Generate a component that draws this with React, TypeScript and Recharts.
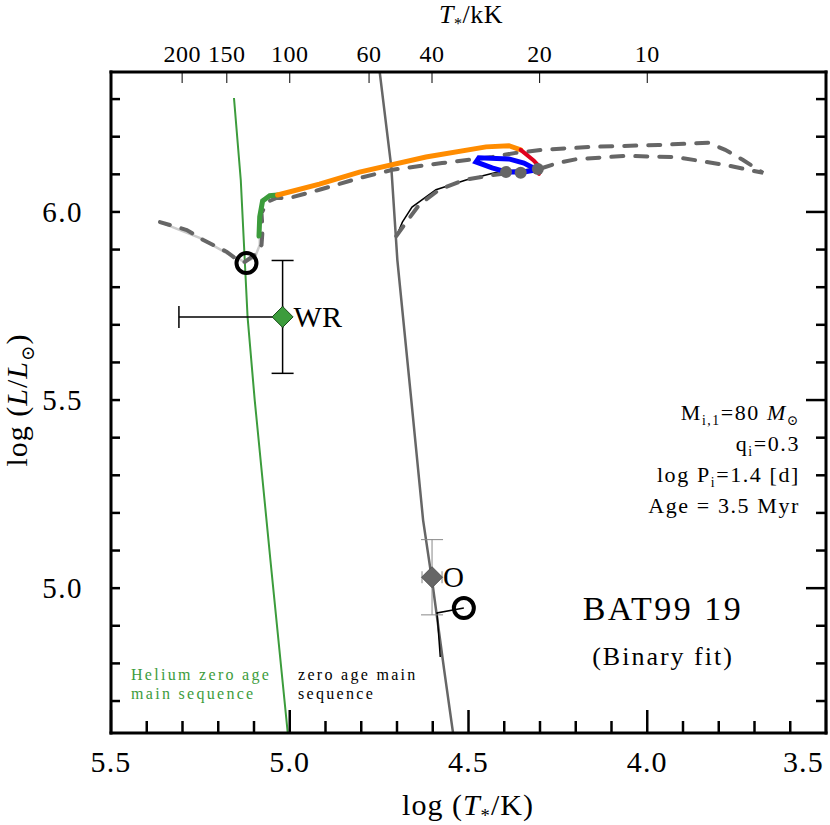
import React from 'react';
import { ComposedChart, Line, Scatter, XAxis, YAxis, ErrorBar } from 'recharts';

// helium zero age main sequence
const heliumZams = [
  { x: 5.156, y: 6.303 },
  { x: 5.137, y: 6.085 },
  { x: 5.118, y: 5.721 },
  { x: 5.098, y: 5.5 },
  { x: 5.054, y: 5.074 },
  { x: 5.004, y: 4.6 },
];

// hydrogen zero age main sequence
const zams = [
  { x: 4.752, y: 6.4 },
  { x: 4.716, y: 6.12 },
  { x: 4.699, y: 5.872 },
  { x: 4.66, y: 5.5 },
  { x: 4.627, y: 5.181 },
  { x: 4.602, y: 5.021 },
  { x: 4.568, y: 4.782 },
  { x: 4.541, y: 4.6 },
];

// primary track (dashed)
const binaryTrack = [
  { x: 4.702, y: 5.936 }, { x: 4.674, y: 5.973 }, { x: 4.638, y: 6.019 },
  { x: 4.582, y: 6.059 }, { x: 4.513, y: 6.085 }, { x: 4.434, y: 6.098 },
  { x: 4.359, y: 6.106 }, { x: 4.303, y: 6.114 }, { x: 4.25, y: 6.13 },
  { x: 4.2, y: 6.14 }, { x: 4.061, y: 6.149 }, { x: 3.921, y: 6.146 },
  { x: 3.782, y: 6.125 }, { x: 3.676, y: 6.104 }, { x: 3.732, y: 6.138 },
  { x: 3.782, y: 6.165 }, { x: 3.829, y: 6.184 }, { x: 3.969, y: 6.178 },
  { x: 4.156, y: 6.173 }, { x: 4.295, y: 6.165 }, { x: 4.368, y: 6.157 },
  { x: 4.434, y: 6.146 }, { x: 4.574, y: 6.13 }, { x: 4.713, y: 6.112 },
  { x: 4.805, y: 6.09 }, { x: 4.917, y: 6.059 }, { x: 5.001, y: 6.037 },
  { x: 5.037, y: 6.037 }, { x: 5.062, y: 6.027 }, { x: 5.079, y: 5.997 },
  { x: 5.076, y: 5.952 }, { x: 5.079, y: 5.912 }, { x: 5.098, y: 5.886 },
  { x: 5.126, y: 5.867 }, { x: 5.146, y: 5.872 }, { x: 5.176, y: 5.894 },
  { x: 5.243, y: 5.926 }, { x: 5.288, y: 5.952 }, { x: 5.363, y: 5.973 },
];

const lightTrack = [
  { x: 5.363, y: 5.973 }, { x: 5.252, y: 5.931 }, { x: 5.168, y: 5.886 },
  { x: 5.126, y: 5.867 }, { x: 5.098, y: 5.878 }, { x: 5.084, y: 5.912 },
  { x: 5.084, y: 5.94 },
];

const wrPhase = [
  { x: 5.086, y: 5.936 }, { x: 5.084, y: 5.987 }, { x: 5.076, y: 6.029 },
  { x: 5.056, y: 6.043 }, { x: 5.034, y: 6.045 },
];

const orangePhase = [
  { x: 5.034, y: 6.045 }, { x: 4.917, y: 6.074 }, { x: 4.805, y: 6.106 },
  { x: 4.619, y: 6.146 }, { x: 4.451, y: 6.173 }, { x: 4.387, y: 6.176 },
  { x: 4.354, y: 6.165 },
];

const redPhase = [
  { x: 4.354, y: 6.165 }, { x: 4.317, y: 6.136 }, { x: 4.298, y: 6.117 },
  { x: 4.303, y: 6.101 },
];

const bluePhase = [
  { x: 4.309, y: 6.112 }, { x: 4.345, y: 6.13 }, { x: 4.387, y: 6.141 },
  { x: 4.471, y: 6.144 }, { x: 4.479, y: 6.133 }, { x: 4.434, y: 6.117 },
  { x: 4.393, y: 6.106 }, { x: 4.345, y: 6.106 }, { x: 4.309, y: 6.112 },
];

const secondaryTrack = [
  { x: 4.702, y: 5.934 }, { x: 4.685, y: 5.973 }, { x: 4.658, y: 6.013 },
  { x: 4.591, y: 6.059 }, { x: 4.507, y: 6.085 }, { x: 4.407, y: 6.109 },
  { x: 4.303, y: 6.114 },
];

const oTrack = [
  { x: 4.513, y: 4.947 }, { x: 4.588, y: 4.934 }, { x: 4.579, y: 4.817 },
];

const trackDots = [
  { x: 4.395, y: 6.106 }, { x: 4.354, y: 6.104 }, { x: 4.306, y: 6.114 },
];

const fitPoints = [
  { x: 5.121, y: 5.864 },
  { x: 4.513, y: 4.947 },
];

const wrStar = [{ x: 5.02, y: 5.721, ex: [0, 0.29], ey: 0.15, name: 'WR' }];
const oStar = [{ x: 4.602, y: 5.029, ex: 0.028, ey: 0.1, name: 'O' }];

const bottomTicks = [5.5, 5.4, 5.3, 5.2, 5.1, 5.0, 4.9, 4.8, 4.7, 4.6, 4.5, 4.4, 4.3, 4.2, 4.1, 4.0, 3.9, 3.8, 3.7, 3.6, 3.5];
const leftTicks = [4.7, 4.8, 4.9, 5.0, 5.1, 5.2, 5.3, 5.4, 5.5, 5.6, 5.7, 5.8, 5.9, 6.0, 6.1, 6.2, 6.3];
const topTickLabels = [200, 150, 100, 60, 40, 20, 10];

const serif = '"Liberation Serif", "DejaVu Serif", serif';
const isMajor = (v: number) => Math.abs(v * 2 - Math.round(v * 2)) < 1e-6;

function BottomTick({ x, y, payload }: any) {
  const v = payload.value;
  const major = isMajor(v);
  const last = Math.abs(v - 3.5) < 1e-6;
  return (
    <g>
      <line x1={x} x2={x} y1={y} y2={y - (major ? 23 : 12)} stroke="#000" strokeWidth={2.5} />
      {major && (
        <text x={last ? x - 2 : x} y={y + 39} textAnchor={last ? 'end' : 'middle'} fontFamily={serif} fontSize={30} letterSpacing={1.2} fill="#000">
          {v.toFixed(1)}
        </text>
      )}
    </g>
  );
}

function LeftTick({ x, y, payload }: any) {
  const v = payload.value;
  return (
    <g>
      <line x1={x} x2={x + 9} y1={y} y2={y} stroke="#000" strokeWidth={2.5} />
      {isMajor(v) && (
        <text x={x - 28} y={y + 10} textAnchor="end" fontFamily={serif} fontSize={29} letterSpacing={1.5} fill="#000">
          {v.toFixed(1)}
        </text>
      )}
    </g>
  );
}

function RightTick({ x, y, payload }: any) {
  const v = payload.value;
  return <line x1={x} x2={x - (isMajor(v) ? 20 : 10)} y1={y} y2={y} stroke="#000" strokeWidth={2.5} />;
}

function TopTick({ x, y, payload }: any) {
  const kk = Math.round(Math.pow(10, payload.value) / 1000);
  return (
    <g>
      <line x1={x} x2={x} y1={y} y2={y + 11} stroke="#000" strokeWidth={1} />
      <text x={x} y={y - 10} textAnchor="middle" fontFamily={serif} fontSize={24} letterSpacing={0.5} fill="#000">
        {kk}
      </text>
    </g>
  );
}

const Diamond = (fill: string, stroke: string, fontSize: number) => (props: any) => {
  const { cx, cy, payload } = props;
  const r = 10.5;
  return (
    <g>
      <path d={`M${cx},${cy - r}L${cx + r},${cy}L${cx},${cy + r}L${cx - r},${cy}Z`} fill={fill} stroke={stroke} strokeWidth={1} />
      <text x={cx + 11} y={cy + 10} fontFamily={serif} fontSize={fontSize} fill="#000">{payload.name}</text>
    </g>
  );
};

const Ring = (props: any) => <circle cx={props.cx} cy={props.cy} r={10} fill="none" stroke="#000" strokeWidth={4} />;
const Dot = (props: any) => <circle cx={props.cx} cy={props.cy} r={6} fill="#666" />;

const frame = { stroke: '#000', strokeWidth: 3, strokeLinecap: 'square' as const };

const sub: React.CSSProperties = { fontSize: '0.62em', verticalAlign: 'sub', lineHeight: 0 };
const note: React.CSSProperties = { position: 'absolute', fontSize: 16, lineHeight: '17px', letterSpacing: 2.3, whiteSpace: 'nowrap' };

export default function App() {
  const lineProps = { dataKey: 'y', dot: false, activeDot: false, isAnimationActive: false, type: 'linear' as const };
  return (
    <div style={{ position: 'absolute', left: 0, top: 0, width: 830, height: 825, fontFamily: serif, background: '#fff' }}>
      <ComposedChart width={830} height={825} margin={{ top: 0, right: 2, bottom: 0, left: 0 }}>
        <XAxis xAxisId={0} dataKey="x" type="number" domain={[3.5, 5.5]} reversed allowDataOverflow orientation="bottom" height={92}
          ticks={bottomTicks} tick={<BottomTick />} tickLine={false} tickSize={0} tickMargin={0} axisLine={frame} interval={0} />
        <XAxis xAxisId="top" dataKey="x" type="number" domain={[3.5, 5.5]} reversed allowDataOverflow orientation="top" height={72}
          ticks={topTickLabels.map((k) => Math.log10(k * 1000))} tick={<TopTick />} tickLine={false} tickSize={0} tickMargin={0} axisLine={frame} interval={0} />
        <YAxis yAxisId={0} type="number" domain={[4.615, 6.372]} allowDataOverflow width={111}
          ticks={leftTicks} tick={<LeftTick />} tickLine={false} tickSize={0} tickMargin={0} axisLine={frame} interval={0} />
        <YAxis yAxisId="right" orientation="right" type="number" domain={[4.615, 6.372]} allowDataOverflow width={2}
          ticks={leftTicks} tick={<RightTick />} tickLine={false} tickSize={0} tickMargin={0} axisLine={frame} interval={0} />

        <Line {...lineProps} data={heliumZams} stroke="#3c9c3c" strokeWidth={2} />
        <Line {...lineProps} data={zams} stroke="#666" strokeWidth={2.5} />
        <Line {...lineProps} data={lightTrack} stroke="#cccccc" strokeWidth={2.5} />
        <Line {...lineProps} data={secondaryTrack} stroke="#000" strokeWidth={1.5} />
        <Line {...lineProps} data={oTrack} stroke="#000" strokeWidth={1.5} />
        <Line {...lineProps} data={binaryTrack} stroke="#666" strokeWidth={4} strokeDasharray="12 12" strokeLinecap="round" />
        <Line {...lineProps} data={wrPhase} stroke="#3c9c3c" strokeWidth={5} strokeLinecap="round" />
        <Line {...lineProps} data={orangePhase} stroke="#ff8c00" strokeWidth={5} strokeLinecap="round" />
        <Line {...lineProps} data={redPhase} stroke="#e0001c" strokeWidth={4} strokeLinecap="round" />
        <Line {...lineProps} data={bluePhase} stroke="#0000ff" strokeWidth={5} strokeLinecap="round" />

        <Scatter data={trackDots} dataKey="y" shape={Dot} isAnimationActive={false} />
        <Scatter data={fitPoints} dataKey="y" shape={Ring} isAnimationActive={false} />
        <Scatter data={oStar} dataKey="y" shape={Diamond('#666', '#555', 29)} isAnimationActive={false}>
          <ErrorBar dataKey="ex" direction="x" width={6} stroke="#888" strokeWidth={1} isAnimationActive={false} />
          <ErrorBar dataKey="ey" direction="y" width={11} stroke="#888" strokeWidth={1} isAnimationActive={false} />
        </Scatter>
        <Scatter data={wrStar} dataKey="y" shape={Diamond('#3c9c3c', '#1a4d1a', 30)} isAnimationActive={false}>
          <ErrorBar dataKey="ex" direction="x" width={11} stroke="#000" strokeWidth={1.5} isAnimationActive={false} />
          <ErrorBar dataKey="ey" direction="y" width={11} stroke="#000" strokeWidth={1.5} isAnimationActive={false} />
        </Scatter>
      </ComposedChart>

      <div style={{ position: 'absolute', left: 371, top: 1, width: 200, textAlign: 'center', fontSize: 26, lineHeight: '28px', letterSpacing: 0.5 }}>
        <i>T</i><span style={sub}>*</span>/kK
      </div>
      <div style={{ position: 'absolute', left: 318, top: 788, width: 300, textAlign: 'center', fontSize: 30, letterSpacing: 1 }}>
        log (<i>T</i><span style={sub}>*</span>/K)
      </div>
      <div style={{ position: 'absolute', left: 17 - 120, top: 400 - 20, width: 240, height: 40, lineHeight: '40px', textAlign: 'center', fontSize: 30, letterSpacing: 1, transform: 'rotate(-90deg)' }}>
        log (<i>L</i>/<i>L</i><span style={sub}>⊙</span>)
      </div>

      <div style={{ ...note, left: 131, top: 666, color: '#3c9c3c' }}>Helium zero age</div>
      <div style={{ ...note, left: 131, top: 685, color: '#3c9c3c' }}>main sequence</div>
      <div style={{ ...note, left: 298, top: 666, color: '#000' }}>zero age main</div>
      <div style={{ ...note, left: 298, top: 685, color: '#000' }}>sequence</div>

      <div style={{ position: 'absolute', right: 830 - 800, top: 397, textAlign: 'right', fontSize: 22, lineHeight: '31px', letterSpacing: 1.6 }}>
        <div>M<span style={sub}>i,1</span>=80 <i>M</i><span style={sub}>⊙</span></div>
        <div>q<span style={sub}>i</span>=0.3</div>
        <div>log P<span style={sub}>i</span>=1.4 [d]</div>
        <div>Age = 3.5 Myr</div>
      </div>

      <div style={{ position: 'absolute', left: 513, top: 588, width: 300, textAlign: 'center', fontSize: 34, letterSpacing: 2.5, lineHeight: '42px' }}>
        BAT99 19
      </div>
      <div style={{ position: 'absolute', left: 513, top: 641, width: 300, textAlign: 'center', fontSize: 26, letterSpacing: 2, lineHeight: '32px' }}>
        (Binary fit)
      </div>
    </div>
  );
}
